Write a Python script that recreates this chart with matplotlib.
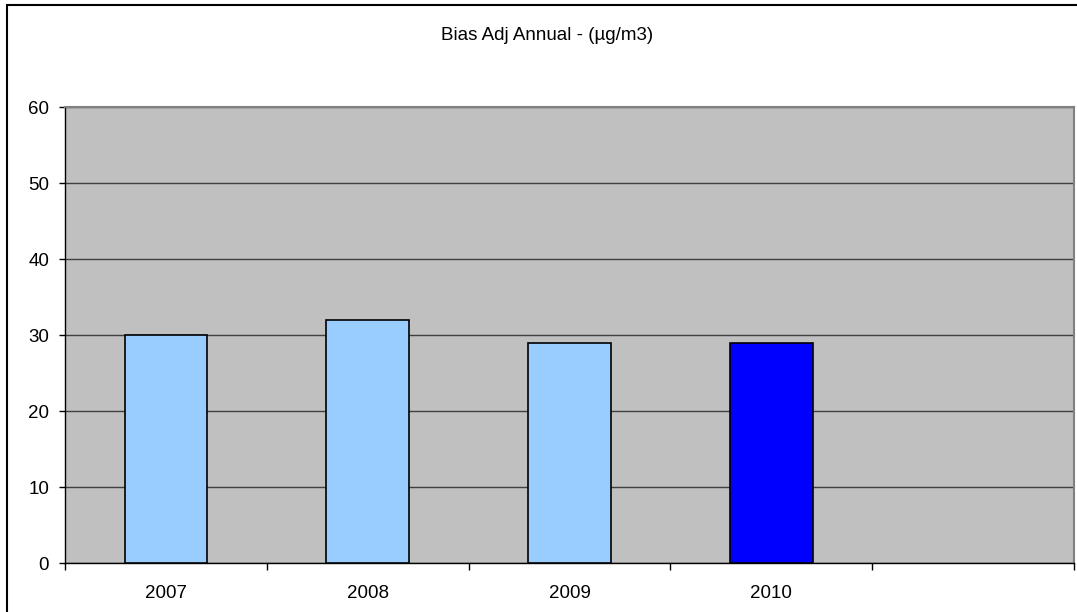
import matplotlib
matplotlib.use("Agg")
import matplotlib.pyplot as plt
from matplotlib.patches import Rectangle
import numpy as np

years = ["2007", "2008", "2009", "2010"]
values = [30.0, 32.0, 29.0, 29.0]
colors = ["#99CCFF", "#99CCFF", "#99CCFF", "#0000FF"]
n_slots = 5
yticks = [0, 10, 20, 30, 40, 50, 60]

plt.rcParams["font.family"] = ["Liberation Sans", "DejaVu Sans"]

W, H = 1077, 612
fig = plt.figure(figsize=(W / 100, H / 100), dpi=100)
# outer chart frame (bottom and right run off the image)
fig.patches.append(Rectangle((7 / W, -0.1), 1.2, (H - 5) / H + 0.1, transform=fig.transFigure,
                             fill=False, edgecolor="black", linewidth=1.5))

ax = fig.add_axes([65 / W, (H - 563) / H, (1074 - 65) / W, (563 - 107) / H])
ax.set_facecolor("#C0C0C0")

x = np.arange(len(years)) + 0.5
ax.bar(x, values, width=0.41, color=colors, edgecolor="black", linewidth=1.2, zorder=3)

ax.set_xlim(0, n_slots)
ax.set_ylim(0, 60)
ax.set_yticks(yticks)
ax.yaxis.grid(True, color="#404040", linewidth=1.0, zorder=1)
ax.set_axisbelow(True)

ax.set_xticks(np.arange(n_slots + 1))
ax.set_xticklabels([])
ax.set_xticks(x, minor=True)
ax.set_xticklabels(years, minor=True)
ax.tick_params(axis="x", which="major", length=5, width=1, color="black", direction="out")
ax.tick_params(axis="x", which="minor", length=0, pad=16, labelsize=13.5)
ax.tick_params(axis="y", length=4.5, width=1, direction="out", labelsize=13.5, pad=7)

for s in ["left", "bottom"]:
    ax.spines[s].set_color("black")
    ax.spines[s].set_linewidth(1.0)
for s in ["top", "right"]:
    ax.spines[s].set_color("#808080")
    ax.spines[s].set_linewidth(1.5)

fig.text(547 / W, 1 - 36 / H, "Bias Adj Annual - (µg/m3)", ha="center", va="center", fontsize=13.5)

fig.savefig("out.png", dpi=100)
